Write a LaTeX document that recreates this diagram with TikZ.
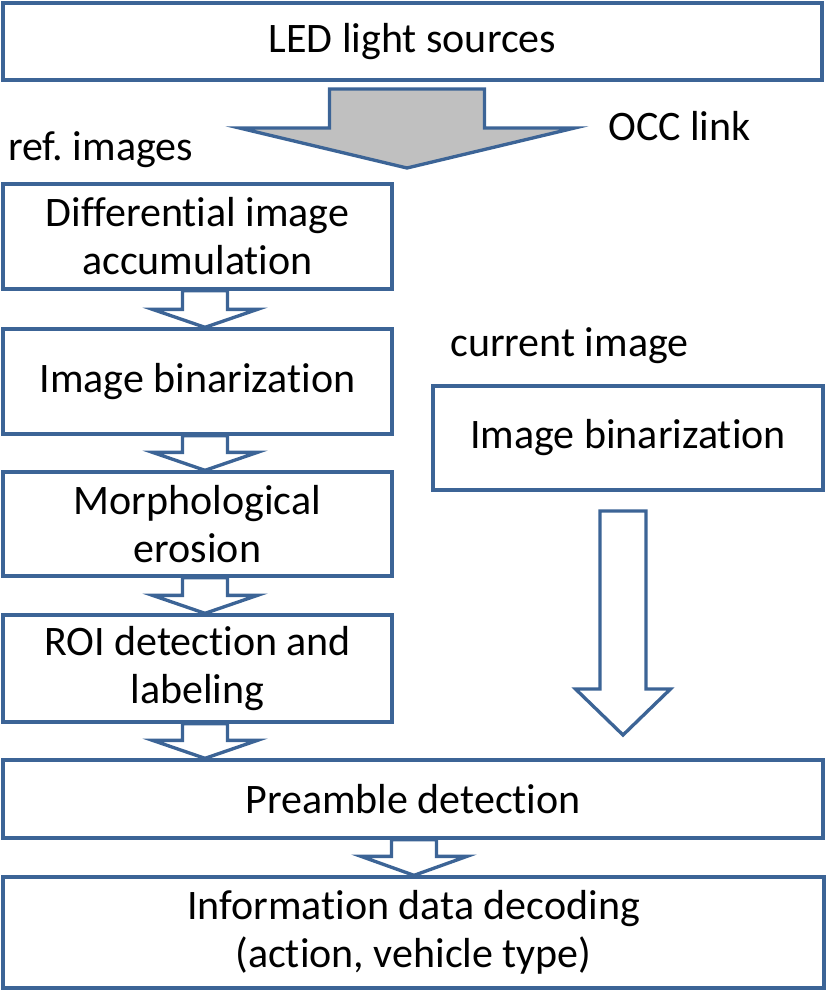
\documentclass[tikz,border=0pt]{standalone}
\usepackage{fontspec}
\setmainfont{Carlito}[Ligatures=NoCommon]
\usetikzlibrary{calc}

\definecolor{boxblue}{RGB}{60,100,150}
\definecolor{arrowgray}{RGB}{192,192,192}

\tikzset{
  stepbox/.style={draw=boxblue, line width=2.5pt, align=center, inner sep=0pt,
    font=\fontsize{31.5}{36}\selectfont},
  labeltext/.style={inner sep=0pt, font=\fontsize{31.5}{36}\selectfont},
  hollow/.style={draw=boxblue, line width=2.5pt, fill=white, line join=miter},
  shaded/.style={hollow, fill=arrowgray},
}

% block arrow: style, start, tip, shaft half-width, head half-width, head length (px)
\newcommand{\blockarrow}[6]{%
  \draw[#1] let \p1=(#2), \p2=(#3) in
    ({\x1-#4*0.75pt},\y1) -- ({\x1+#4*0.75pt},\y1)
    -- ({\x1+#4*0.75pt},{\y2-#6*0.75pt}) -- ({\x1+#5*0.75pt},{\y2-#6*0.75pt})
    -- (\x2,\y2) -- ({\x1-#5*0.75pt},{\y2-#6*0.75pt})
    -- ({\x1-#4*0.75pt},{\y2-#6*0.75pt}) -- cycle;}

\begin{document}
\begin{tikzpicture}[x=0.75pt,y=0.75pt,yscale=-1,xscale=1]
\useasboundingbox (0,0) rectangle (827,990);

%Boxes
\node[stepbox, minimum width=819*0.75pt, minimum height=77*0.75pt] (led) at (412.5,41.5) {LED light sources};
\node[stepbox, minimum width=389*0.75pt, minimum height=105*0.75pt] (diff) at (197.5,236.5) {Differential image\\accumulation};
\node[stepbox, minimum width=389*0.75pt, minimum height=105*0.75pt] (bin) at (197.5,381.5) {Image binarization};
\node[stepbox, minimum width=389*0.75pt, minimum height=104*0.75pt] (morph) at (197.5,524) {Morphological\\erosion};
\node[stepbox, minimum width=389*0.75pt, minimum height=107*0.75pt] (roi) at (197.5,668.5) {ROI detection and\\labeling};
\node[stepbox, minimum width=390*0.75pt, minimum height=104*0.75pt] (curbin) at (628,438) {Image binarization};
\node[stepbox, minimum width=820*0.75pt, minimum height=78*0.75pt] (pre) at (413,799) {Preamble detection};
\node[stepbox, minimum width=821*0.75pt, minimum height=111*0.75pt] (dec) at (413.5,932.5) {Information data decoding\\(action, vehicle type)};

%Labels
\node[labeltext, anchor=base west] (occ) at (608,140) {OCC link};
\node[labeltext, anchor=base west] (refimg) at (8,160) {ref.\ images};
\node[labeltext, anchor=base west] (curimg) at (450,356) {current image};

%Arrow columns and free ends
\coordinate (col1) at (205,0);
\coordinate (col2) at (414,0);
\coordinate (occ top) at (407,89);
\coordinate (occ tip) at (407,168);
\coordinate (cur top) at (623,511);
\coordinate (cur tip) at (623,735);

%Block arrows
\blockarrow{shaded}{occ top}{occ tip}{77.5}{167.5}{40}
\blockarrow{hollow}{col1 |- diff.south}{col1 |- bin.north}{22.5}{52.5}{18}
\blockarrow{hollow}{col1 |- bin.south}{col1 |- morph.north}{22.5}{52.5}{18}
\blockarrow{hollow}{col1 |- morph.south}{col1 |- roi.north}{22.5}{52.5}{18}
\blockarrow{hollow}{col1 |- roi.south}{col1 |- pre.north}{22.5}{52.5}{18}
\blockarrow{hollow}{col2 |- pre.south}{col2 |- dec.north}{22.5}{53}{19}
\blockarrow{hollow}{cur top}{cur tip}{23}{47.5}{46}

\end{tikzpicture}
\end{document}
